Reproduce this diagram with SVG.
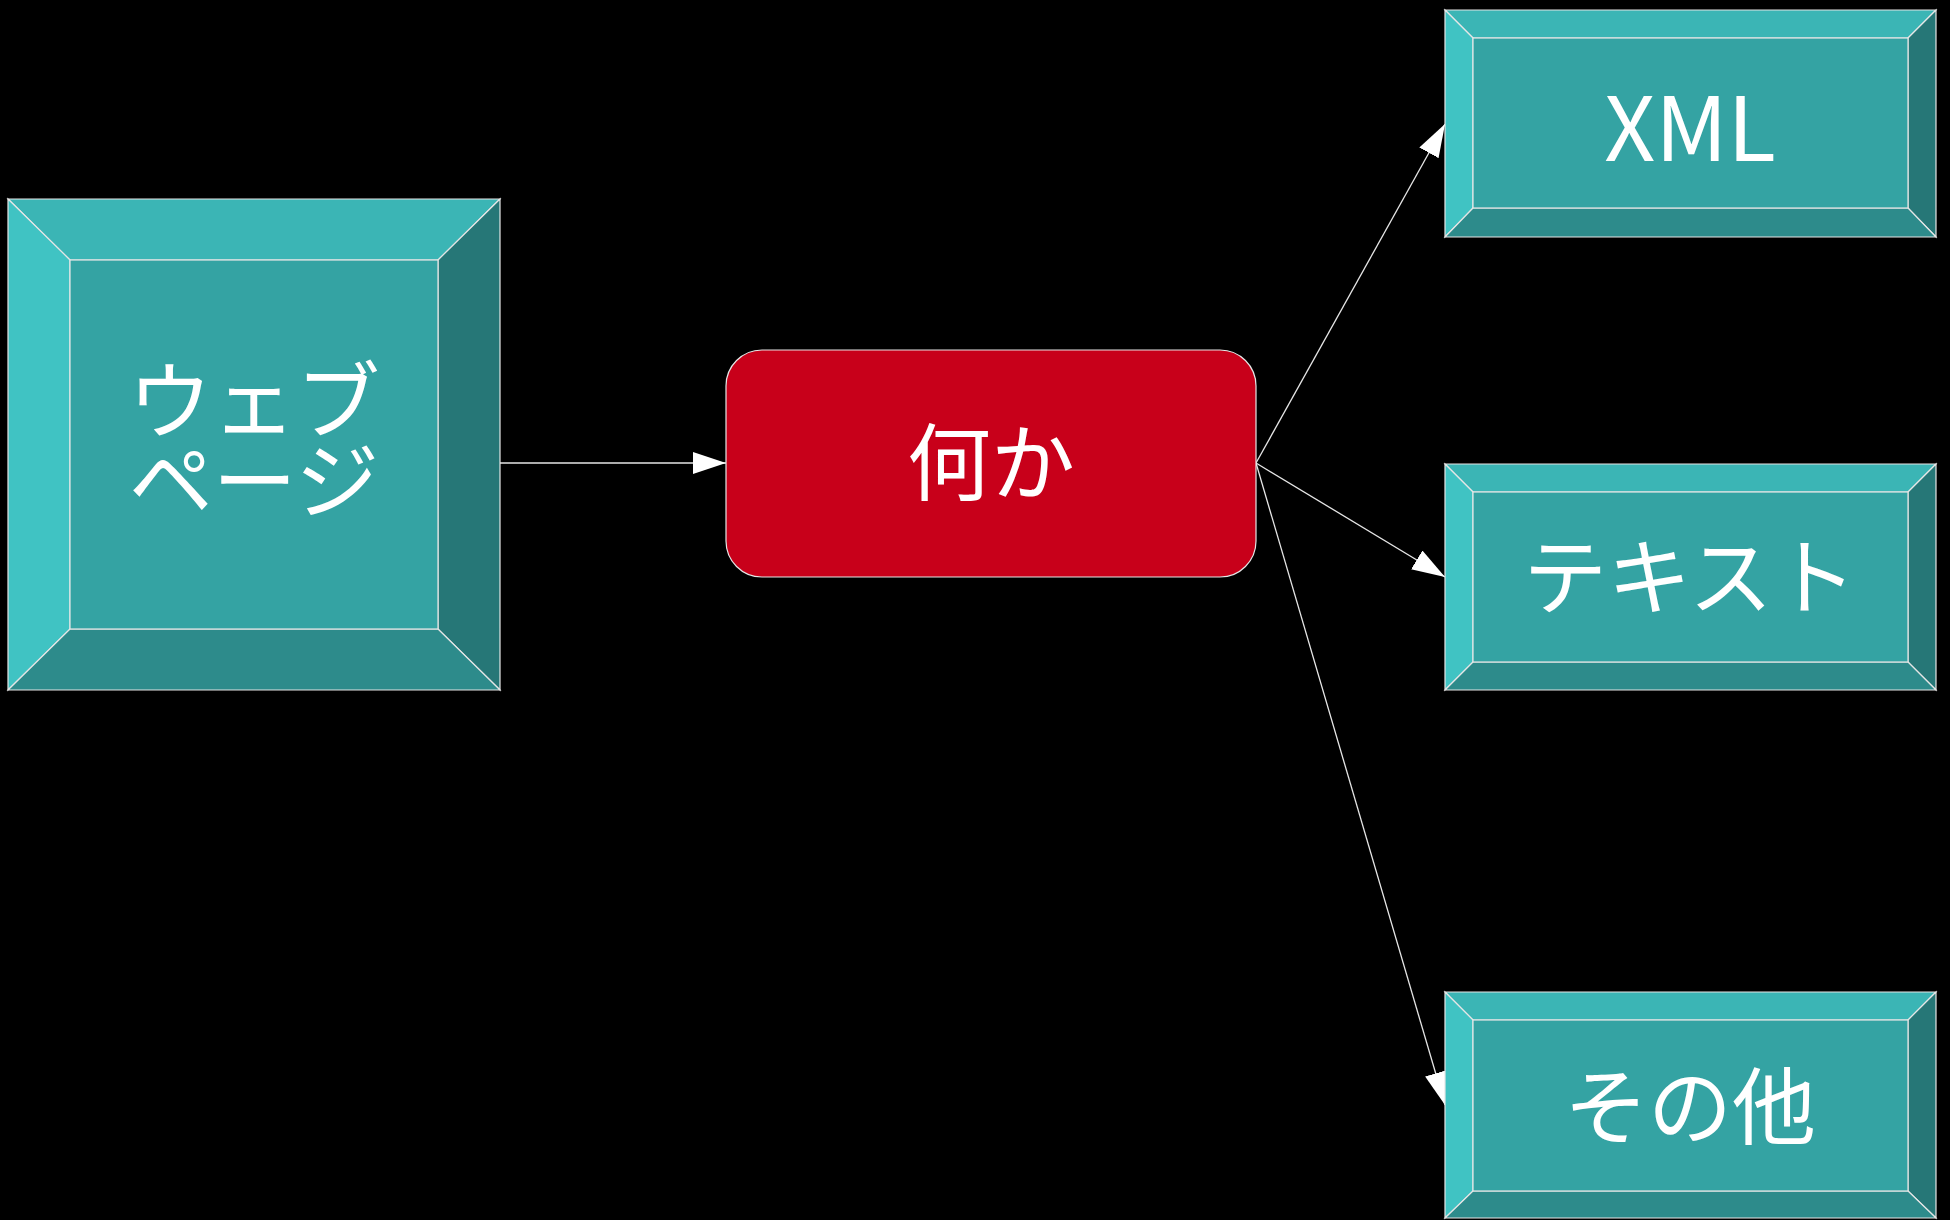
<svg xmlns="http://www.w3.org/2000/svg" width="1950" height="1220" viewBox="0 0 1950 1220">
<defs>
<style>
.top{fill:#3bb5b5;stroke:#e6e6e6;stroke-width:1.2}
.left{fill:#40c3c3;stroke:#e6e6e6;stroke-width:1.2}
.right{fill:#267777;stroke:#e6e6e6;stroke-width:1.2}
.bottom{fill:#2d8b8b;stroke:#e6e6e6;stroke-width:1.2}
.face{fill:#34a3a3;stroke:#e6e6e6;stroke-width:1.2}
.lbl{font-family:"Noto Sans CJK JP","Noto Sans",sans-serif;font-size:84px;fill:#ffffff;text-anchor:middle;dominant-baseline:central}
.conn{stroke:#e6e6e6;stroke-width:1.3;fill:none;marker-end:url(#ah)}
</style>
<marker id="ah" markerUnits="userSpaceOnUse" markerWidth="34" markerHeight="22" refX="33" refY="11" orient="auto" viewBox="0 0 34 22">
<path d="M0,0 L33,11 L0,22 z" fill="#ffffff"/>
</marker>
</defs>
<rect width="1950" height="1220" fill="#000000"/>
<g id="connectors">
<line class="conn" x1="500" y1="463" x2="726" y2="463"/>
<line class="conn" x1="1256" y1="463" x2="1445" y2="124"/>
<line class="conn" x1="1256" y1="463" x2="1445" y2="577"/>
<line class="conn" x1="1256" y1="463" x2="1445" y2="1105"/>
</g>
<g id="webpage">
<polygon class="top" points="8,199 500,199 438,260 70,260"/>
<polygon class="left" points="8,199 70,260 70,629 8,690"/>
<polygon class="right" points="500,199 500,690 438,629 438,260"/>
<polygon class="bottom" points="8,690 70,629 438,629 500,690"/>
<rect class="face" x="70" y="260" width="368" height="369"/>
<text class="lbl" x="254" y="395">ウェブ</text>
<text class="lbl" x="254" y="475">ページ</text>
</g>
<g id="nanika">
<rect x="726" y="350" width="530" height="227" rx="36" ry="36" fill="#c8001a" stroke="#e6e6e6" stroke-width="1.2"/>
<text class="lbl" x="991" y="457">何か</text>
</g>
<g id="xml">
<polygon class="top" points="1445,10 1936,10 1908,38 1473,38"/>
<polygon class="left" points="1445,10 1473,38 1473,208 1445,237"/>
<polygon class="right" points="1936,10 1936,237 1908,208 1908,38"/>
<polygon class="bottom" points="1445,237 1473,208 1908,208 1936,237"/>
<rect class="face" x="1473" y="38" width="435" height="170"/>
<text class="lbl" x="1690" y="122" style="font-size:89px">XML</text>
</g>
<g id="text">
<polygon class="top" points="1445,464 1936,464 1908,492 1473,492"/>
<polygon class="left" points="1445,464 1473,492 1473,662 1445,690"/>
<polygon class="right" points="1936,464 1936,690 1908,662 1908,492"/>
<polygon class="bottom" points="1445,690 1473,662 1908,662 1936,690"/>
<rect class="face" x="1473" y="492" width="435" height="170"/>
<text class="lbl" x="1690" y="571">テキスト</text>
</g>
<g id="other">
<polygon class="top" points="1445,992 1936,992 1908,1020 1473,1020"/>
<polygon class="left" points="1445,992 1473,1020 1473,1191 1445,1218"/>
<polygon class="right" points="1936,992 1936,1218 1908,1191 1908,1020"/>
<polygon class="bottom" points="1445,1218 1473,1191 1908,1191 1936,1218"/>
<rect class="face" x="1473" y="1020" width="435" height="171"/>
<text class="lbl" x="1690" y="1101">その他</text>
</g>
</svg>
